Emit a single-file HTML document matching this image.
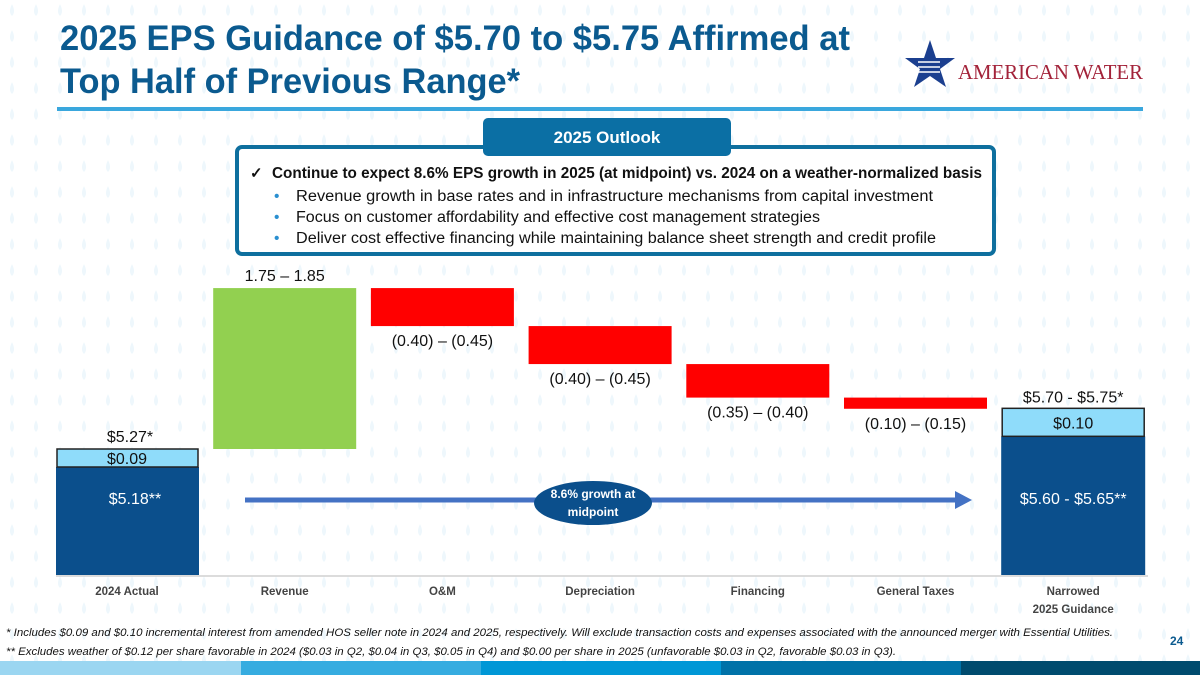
<!DOCTYPE html>
<html><head><meta charset="utf-8"><style>
html,body{margin:0;padding:0;background:#fff}
svg{display:block;font-family:"Liberation Sans",sans-serif}
</style></head><body>
<svg id="slide" width="1200" height="675" viewBox="0 0 1200 675">
<defs><pattern id="drops" width="24" height="26" patternUnits="userSpaceOnUse"><path d="M12 4 Q16 12 12 16 Q8 12 12 4Z" fill="#eef7fc"/></pattern></defs>
<rect width="1200" height="675" fill="url(#drops)"/>
<g fill="#0b5a8f" font-weight="bold" font-size="35">
<text x="60" y="50" textLength="790" lengthAdjust="spacingAndGlyphs">2025 EPS Guidance of $5.70 to $5.75 Affirmed at</text>
<text x="60" y="93" textLength="460" lengthAdjust="spacingAndGlyphs">Top Half of Previous Range*</text>
</g>
<g>
<polygon points="930,40 936,58 955,58 940,69 946,87 930,76 914,87 920,69 905,58 924,58" fill="#1b3f8f"/>
<path d="M918 62h22M918 67h22M918 72h22" stroke="#fff" stroke-width="1.5"/>
<text x="958" y="79" fill="#a3233a" font-family="Liberation Serif,serif" font-size="21" textLength="185" lengthAdjust="spacingAndGlyphs">AMERICAN WATER</text>
</g>
<rect x="57" y="107" width="1086" height="4" fill="#3aa7dd"/>
<g>
<rect x="237" y="147" width="757" height="107" rx="5" fill="#fff" stroke="#0e6f9e" stroke-width="4"/>
<rect x="483" y="118" width="248" height="38" rx="5" fill="#0b6fa4"/>
<text x="607" y="143" text-anchor="middle" fill="#fff" font-weight="bold" font-size="17">2025 Outlook</text>
<text x="250" y="178" font-size="15" font-weight="bold" fill="#111">✓</text>
<text x="272" y="178" font-size="15.5" font-weight="bold" fill="#111" textLength="710" lengthAdjust="spacingAndGlyphs">Continue to expect 8.6% EPS growth in 2025 (at midpoint) vs. 2024 on a weather-normalized basis</text>
<g font-size="15.5" fill="#111">
<text x="274" y="201" fill="#2a8fd0">•</text><text x="296" y="201" textLength="637" lengthAdjust="spacingAndGlyphs">Revenue growth in base rates and in infrastructure mechanisms from capital investment</text>
<text x="274" y="222" fill="#2a8fd0">•</text><text x="296" y="222" textLength="524" lengthAdjust="spacingAndGlyphs">Focus on customer affordability and effective cost management strategies</text>
<text x="274" y="243" fill="#2a8fd0">•</text><text x="296" y="243" textLength="640" lengthAdjust="spacingAndGlyphs">Deliver cost effective financing while maintaining balance sheet strength and credit profile</text>
</g></g>
<g id="chart"></g>
<g font-style="italic" font-size="11" fill="#111">
<text x="6" y="636" textLength="1107" lengthAdjust="spacingAndGlyphs">* Includes $0.09 and $0.10 incremental interest from amended HOS seller note in 2024 and 2025, respectively. Will exclude transaction costs and expenses associated with the announced merger with Essential Utilities.</text>
<text x="6" y="655" textLength="890" lengthAdjust="spacingAndGlyphs">** Excludes weather of $0.12 per share favorable in 2024 ($0.03 in Q2, $0.04 in Q3, $0.05 in Q4) and $0.00 per share in 2025 (unfavorable $0.03 in Q2, favorable $0.03 in Q3).</text>
</g>
<text x="1170" y="645" fill="#0b5a8f" font-weight="bold" font-size="12">24</text>
<g>
<rect x="0" y="661" width="241" height="14" fill="#9bd6f1"/><rect x="241" y="661" width="240" height="14" fill="#36ace0"/><rect x="481" y="661" width="240" height="14" fill="#0097d6"/><rect x="721" y="661" width="240" height="14" fill="#0072a8"/><rect x="961" y="661" width="239" height="14" fill="#004b6e"/>
</g>
</svg>
<script>
const categories=["2024 Actual","Revenue","O&M","Depreciation","Financing","General Taxes","Narrowed|2025 Guidance"];
const deltas=[null,1.80,-0.425,-0.425,-0.375,-0.125,null];
const deltaLabels=["","1.75 – 1.85","(0.40) – (0.45)","(0.40) – (0.45)","(0.35) – (0.40)","(0.10) – (0.15)",""];
const startBase=5.18, startInterest=0.09;
const endBase=5.625, endInterest=0.10;
const baseLabels=["$5.18**","$5.60 - $5.65**"];
const interestLabels=["$0.09","$0.10"];
const totalLabels=["$5.27*","$5.70 - $5.75*"];

const NS="http://www.w3.org/2000/svg";
const g=document.getElementById('chart');
const baseY=575, refV=5.27, refY=449, k=89.4;
function y(v){return refY-(v-refV)*k;}
function xc(i){return 127+i*157.7;}
const bw=143;
function mk(t,a,p){const e=document.createElementNS(NS,t);for(const q in a)e.setAttribute(q,a[q]);(p||g).appendChild(e);return e;}
function tx(x,yy,s,a,p){const e=mk('text',Object.assign({x:x,y:yy},a),p);e.textContent=s;return e;}

const ax=mk('line',{x1:56,x2:1148,y1:baseY+1,y2:baseY+1,stroke:'#d0d0d0','stroke-width':1.5});



// start bar
let startTot=startBase+startInterest;
let topS=y(startTot), ihS=startInterest*200;
let r=mk('rect',{x:xc(0)-71,y:topS+ihS,width:bw,height:baseY-topS-ihS,fill:'#0b4f8c'});


r=mk('rect',{x:xc(0)-70,y:topS,width:bw-2,height:ihS,fill:'#8fdcfa',stroke:'#222','stroke-width':1.5});


let t=tx(xc(0)+3,topS-7,totalLabels[0],{'text-anchor':'middle','font-size':16,fill:'#111'});


t=tx(xc(0)-20,topS+15,interestLabels[0],{'font-size':16,fill:'#111'});


t=tx(xc(0)+8,504,baseLabels[0],{'text-anchor':'middle','font-size':16,fill:'#fff'});



// floating bars
let run=startTot;
for(let i=1;i<deltas.length-1;i++){
  const d=deltas[i], a=y(run), b=y(run+d);
  const top=Math.min(a,b), h=Math.abs(a-b);
  const rr=mk('rect',{x:xc(i)-71.5,y:top,width:bw,height:h,fill:d>0?'#92d050':'#ff0000'});
  
  
  const ly=d>0?top-7:top+h+20;
  const lt=tx(xc(i),ly,deltaLabels[i],{'text-anchor':'middle','font-size':16,fill:'#111'});
  
  
  run+=d;
}

// end bar
const n=categories.length-1;
let endTot=endBase+endInterest;
let topE=y(endTot), ihE=28;
r=mk('rect',{x:xc(n)-72,y:topE+ihE,width:bw+1,height:baseY-topE-ihE,fill:'#0b4f8c'});


r=mk('rect',{x:xc(n)-71,y:topE,width:bw-1,height:ihE,fill:'#8fdcfa',stroke:'#222','stroke-width':1.5});


t=tx(xc(n),topE-6,totalLabels[1],{'text-anchor':'middle','font-size':16,fill:'#111'});


t=tx(xc(n),topE+20,interestLabels[1],{'text-anchor':'middle','font-size':16,fill:'#111'});


t=tx(xc(n),504,baseLabels[1],{'text-anchor':'middle','font-size':16,fill:'#fff'});



// category labels
categories.forEach((c,i)=>{
  const parts=c.split('|');
  parts.forEach((p,j)=>{
    const e=tx(xc(i),595+j*18,p,{'text-anchor':'middle','font-size':11.5,'font-weight':'bold',fill:'#444'});
    
    
  });
});

// growth arrow
const ar=mk('line',{x1:245,x2:958,y1:500,y2:500,stroke:'#4472c4','stroke-width':5});


const ah=mk('polygon',{points:'955,491 972,500 955,509',fill:'#4472c4'});


const el=mk('ellipse',{cx:593,cy:503,rx:59,ry:22,fill:'#0b4f8c'});


t=tx(593,498,'8.6% growth at',{'text-anchor':'middle','font-size':12,'font-weight':'bold',fill:'#fff'});


t=tx(593,516,'midpoint',{'text-anchor':'middle','font-size':12,'font-weight':'bold',fill:'#fff'});


</script>
</body></html>
